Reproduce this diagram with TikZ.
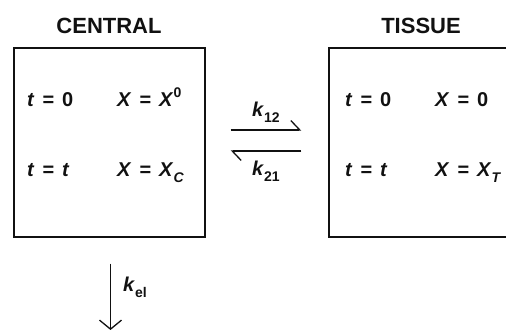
\documentclass[tikz,border=0pt]{standalone}
\usepackage{fontspec}
\setmainfont{Liberation Sans}
\usetikzlibrary{arrows.meta,positioning}
\definecolor{kink}{HTML}{111111}

\newcommand{\eqsign}{\hspace{0.4em}=\hspace{0.4em}}
\newcommand{\lowidx}[1]{\raisebox{-0.3em}{\fontsize{14}{16}\selectfont #1}}
\newcommand{\highidx}[1]{\raisebox{0.45em}{\fontsize{14}{16}\selectfont #1}}

\begin{document}
\begin{tikzpicture}[x=1pt,y=1pt,
    compbox/.style={draw=kink,line width=1.4pt,minimum width=191pt,minimum height=189pt,inner sep=0pt},
    title/.style={font=\fontsize{22}{26}\selectfont\bfseries,text=kink},
    eqn/.style={anchor=base west,font=\fontsize{20}{24}\selectfont\bfseries,text=kink,inner sep=0pt},
    rate/.style={font=\fontsize{20}{24}\selectfont\bfseries,text=kink,inner sep=0pt},
    flow/.style={draw=kink,line width=1.3pt,-{Straight Barb[left,length=9pt,width=19pt]}}]
  \clip (0,0) rectangle (506,331);
  % compartments
  \node[compbox] (central) at (109.5,188.5) {};
  \node[compbox,minimum width=186pt] (tissue) at (422,188.5) {};
  \node[title] (ctitle) at (109,305) {CENTRAL};
  \node[title] (ttitle) at (421,305) {TISSUE};
  % amounts
  \node[eqn] (c0t) at (27,224) {\textit{t}\eqsign 0};
  \node[eqn] (c0x) at (117,224) {\textit{X}\eqsign\textit{X}\highidx{0}};
  \node[eqn] (c1t) at (27,154) {\textit{t}\eqsign\textit{t}};
  \node[eqn] (c1x) at (117,154) {\textit{X}\eqsign\textit{X}\lowidx{\textit{C}}};
  \node[eqn] (t0t) at (345,224) {\textit{t}\eqsign 0};
  \node[eqn] (t0x) at (435,224) {\textit{X}\eqsign 0};
  \node[eqn] (t1t) at (345,154) {\textit{t}\eqsign\textit{t}};
  \node[eqn] (t1x) at (435,154) {\textit{X}\eqsign\textit{X}\lowidx{\textit{T}}};
  % transfer
  \draw[flow] ([xshift=25pt,yshift=12.5pt]central.east) -- ([xshift=-27pt,yshift=12.5pt]tissue.west)
    node[rate,midway,above=7pt] (k12) {\textit{k}\lowidx{12}};
  \draw[flow] ([xshift=-27pt,yshift=-8.5pt]tissue.west) -- ([xshift=25pt,yshift=-8.5pt]central.east)
    node[rate,midway,below=9pt] (k21) {\textit{k}\lowidx{21}};
  % elimination
  \coordinate (sink) at (110.5,1);
  \draw[draw=kink,line width=1.3pt,-{Straight Barb[length=9pt,width=22pt]}] ([xshift=1pt,yshift=-26pt]central.south) -- (sink)
    node[rate,pos=0.35,right=12pt] (kel) {\textit{k}\lowidx{el}};
\end{tikzpicture}
\end{document}
